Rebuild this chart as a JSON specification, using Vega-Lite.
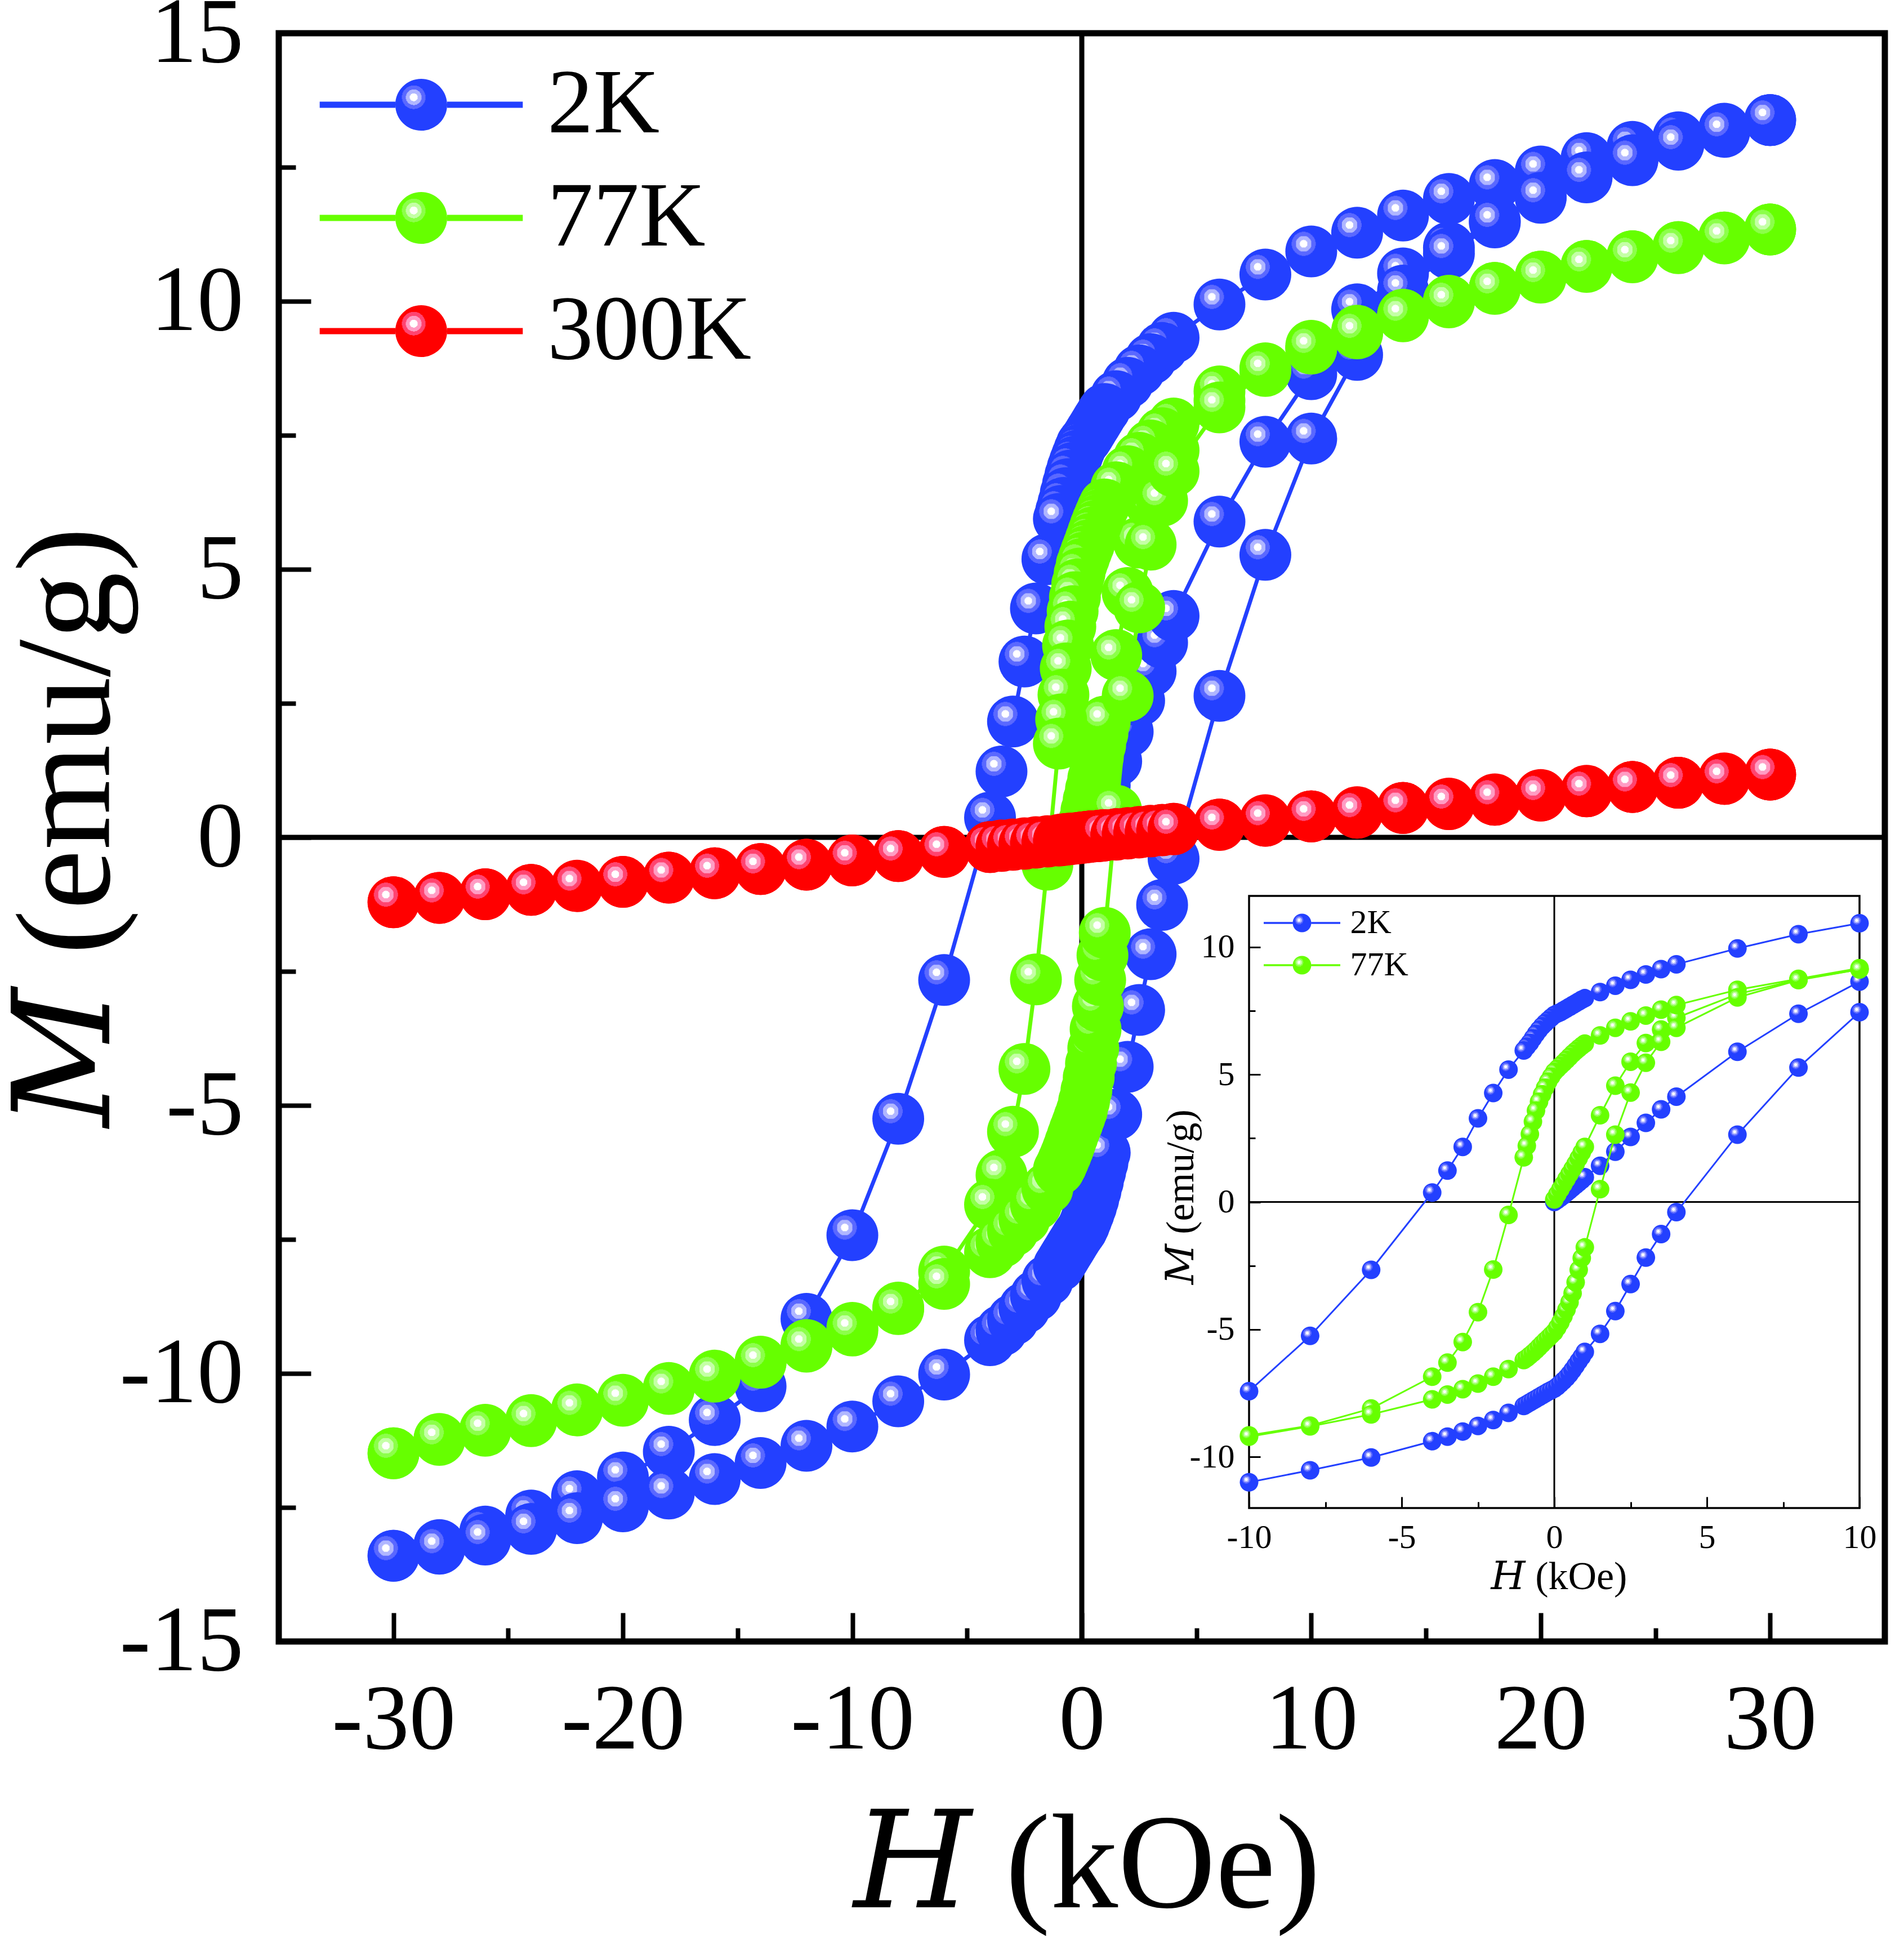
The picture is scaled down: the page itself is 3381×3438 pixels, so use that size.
{
"$schema":"https://vega.github.io/schema/vega-lite/v6.json",
"width":2852,"height":2856,
"autosize":{"type":"none"},
"padding":{"left":495,"top":59,"right":34,"bottom":523},
"background":"white",
"config":{
 "view":{"stroke":"black","strokeWidth":11},
 "axis":{"grid":false,"domain":false,"labelFont":"Liberation Serif","titleFont":"Liberation Serif, DejaVu Serif","labelColor":"black","titleColor":"black","tickColor":"black","titleFontWeight":"normal","labelFlush":false,"labelOverlap":false,"labelBound":false,"labelLimit":0,"titleLimit":0},
 "legend":{"labelFont":"Liberation Serif","labelColor":"black","padding":0,"offset":0,"labelLimit":0}
},
"datasets":{"mh":[
{"T":"2K","b":"v","H":0,"M":0},{"T":"2K","b":"v","H":0.1,"M":0.08},{"T":"2K","b":"v","H":0.2,"M":0.17},{"T":"2K","b":"v","H":0.3,"M":0.26},{"T":"2K","b":"v","H":0.4,"M":0.36},{"T":"2K","b":"v","H":0.5,"M":0.46},{"T":"2K","b":"v","H":0.6,"M":0.56},{"T":"2K","b":"v","H":0.7,"M":0.66},{"T":"2K","b":"v","H":0.8,"M":0.76},{"T":"2K","b":"v","H":0.9,"M":0.86},{"T":"2K","b":"v","H":1,"M":0.97},{"T":"2K","b":"v","H":1.5,"M":1.42},{"T":"2K","b":"v","H":2,"M":1.97},{"T":"2K","b":"v","H":2.5,"M":2.55},{"T":"2K","b":"v","H":3,"M":3.1},{"T":"2K","b":"v","H":3.5,"M":3.63},{"T":"2K","b":"v","H":4,"M":4.13},{"T":"2K","b":"v","H":6,"M":5.89},{"T":"2K","b":"v","H":8,"M":7.38},{"T":"2K","b":"v","H":10,"M":8.64},{"T":"2K","b":"v","H":12,"M":9.85},{"T":"2K","b":"v","H":14,"M":10.52},{"T":"2K","b":"v","H":16,"M":11.0},{"T":"2K","b":"v","H":18,"M":11.5},{"T":"2K","b":"v","H":20,"M":11.95},{"T":"2K","b":"v","H":22,"M":12.33},{"T":"2K","b":"v","H":24,"M":12.65},{"T":"2K","b":"v","H":26,"M":12.94},{"T":"2K","b":"v","H":28,"M":13.18},{"T":"2K","b":"v","H":30,"M":13.38},
{"T":"2K","b":"d","H":30,"M":13.38},{"T":"2K","b":"d","H":28,"M":13.22},{"T":"2K","b":"d","H":26,"M":13.06},{"T":"2K","b":"d","H":24,"M":12.88},{"T":"2K","b":"d","H":22,"M":12.67},{"T":"2K","b":"d","H":20,"M":12.42},{"T":"2K","b":"d","H":18,"M":12.17},{"T":"2K","b":"d","H":16,"M":11.91},{"T":"2K","b":"d","H":14,"M":11.6},{"T":"2K","b":"d","H":12,"M":11.28},{"T":"2K","b":"d","H":10,"M":10.93},{"T":"2K","b":"d","H":8,"M":10.5},{"T":"2K","b":"d","H":6,"M":9.94},{"T":"2K","b":"d","H":4,"M":9.32},{"T":"2K","b":"d","H":3.5,"M":9.13},{"T":"2K","b":"d","H":3,"M":8.92},{"T":"2K","b":"d","H":2.5,"M":8.71},{"T":"2K","b":"d","H":2,"M":8.48},{"T":"2K","b":"d","H":1.5,"M":8.23},{"T":"2K","b":"d","H":1,"M":7.99},{"T":"2K","b":"d","H":0.9,"M":7.93},{"T":"2K","b":"d","H":0.8,"M":7.86},{"T":"2K","b":"d","H":0.7,"M":7.79},{"T":"2K","b":"d","H":0.6,"M":7.72},{"T":"2K","b":"d","H":0.5,"M":7.65},{"T":"2K","b":"d","H":0.4,"M":7.58},{"T":"2K","b":"d","H":0.3,"M":7.51},{"T":"2K","b":"d","H":0.2,"M":7.44},{"T":"2K","b":"d","H":0.1,"M":7.39},{"T":"2K","b":"d","H":0,"M":7.33},{"T":"2K","b":"d","H":-0.1,"M":7.23},{"T":"2K","b":"d","H":-0.2,"M":7.12},{"T":"2K","b":"d","H":-0.3,"M":7.01},{"T":"2K","b":"d","H":-0.4,"M":6.89},{"T":"2K","b":"d","H":-0.5,"M":6.75},{"T":"2K","b":"d","H":-0.6,"M":6.59},{"T":"2K","b":"d","H":-0.7,"M":6.42},{"T":"2K","b":"d","H":-0.8,"M":6.24},{"T":"2K","b":"d","H":-0.9,"M":6.09},{"T":"2K","b":"d","H":-1,"M":5.94},{"T":"2K","b":"d","H":-1.5,"M":5.19},{"T":"2K","b":"d","H":-2,"M":4.27},{"T":"2K","b":"d","H":-2.5,"M":3.28},{"T":"2K","b":"d","H":-3,"M":2.16},{"T":"2K","b":"d","H":-3.5,"M":1.23},{"T":"2K","b":"d","H":-4,"M":0.37},{"T":"2K","b":"d","H":-6,"M":-2.66},{"T":"2K","b":"d","H":-8,"M":-5.25},{"T":"2K","b":"d","H":-10,"M":-7.42},{"T":"2K","b":"d","H":-12,"M":-8.98},{"T":"2K","b":"d","H":-14,"M":-10.24},{"T":"2K","b":"d","H":-16,"M":-10.87},{"T":"2K","b":"d","H":-18,"M":-11.46},{"T":"2K","b":"d","H":-20,"M":-11.94},{"T":"2K","b":"d","H":-22,"M":-12.29},{"T":"2K","b":"d","H":-24,"M":-12.65},{"T":"2K","b":"d","H":-26,"M":-12.95},{"T":"2K","b":"d","H":-28,"M":-13.2},{"T":"2K","b":"d","H":-30,"M":-13.4},
{"T":"2K","b":"a","H":-30,"M":-13.4},{"T":"2K","b":"a","H":-28,"M":-13.27},{"T":"2K","b":"a","H":-26,"M":-13.1},{"T":"2K","b":"a","H":-24,"M":-12.9},{"T":"2K","b":"a","H":-22,"M":-12.7},{"T":"2K","b":"a","H":-20,"M":-12.48},{"T":"2K","b":"a","H":-18,"M":-12.24},{"T":"2K","b":"a","H":-16,"M":-11.97},{"T":"2K","b":"a","H":-14,"M":-11.67},{"T":"2K","b":"a","H":-12,"M":-11.35},{"T":"2K","b":"a","H":-10,"M":-10.99},{"T":"2K","b":"a","H":-8,"M":-10.52},{"T":"2K","b":"a","H":-6,"M":-10.02},{"T":"2K","b":"a","H":-4,"M":-9.38},{"T":"2K","b":"a","H":-3.5,"M":-9.2},{"T":"2K","b":"a","H":-3,"M":-9.0},{"T":"2K","b":"a","H":-2.5,"M":-8.78},{"T":"2K","b":"a","H":-2,"M":-8.55},{"T":"2K","b":"a","H":-1.5,"M":-8.27},{"T":"2K","b":"a","H":-1,"M":-8.0},{"T":"2K","b":"a","H":-0.9,"M":-7.93},{"T":"2K","b":"a","H":-0.8,"M":-7.86},{"T":"2K","b":"a","H":-0.7,"M":-7.79},{"T":"2K","b":"a","H":-0.6,"M":-7.72},{"T":"2K","b":"a","H":-0.5,"M":-7.65},{"T":"2K","b":"a","H":-0.4,"M":-7.58},{"T":"2K","b":"a","H":-0.3,"M":-7.51},{"T":"2K","b":"a","H":-0.2,"M":-7.44},{"T":"2K","b":"a","H":-0.1,"M":-7.38},{"T":"2K","b":"a","H":0,"M":-7.32},{"T":"2K","b":"a","H":0.1,"M":-7.23},{"T":"2K","b":"a","H":0.2,"M":-7.12},{"T":"2K","b":"a","H":0.3,"M":-7.01},{"T":"2K","b":"a","H":0.4,"M":-6.89},{"T":"2K","b":"a","H":0.5,"M":-6.75},{"T":"2K","b":"a","H":0.6,"M":-6.59},{"T":"2K","b":"a","H":0.7,"M":-6.42},{"T":"2K","b":"a","H":0.8,"M":-6.24},{"T":"2K","b":"a","H":0.9,"M":-6.07},{"T":"2K","b":"a","H":1,"M":-5.88},{"T":"2K","b":"a","H":1.5,"M":-5.17},{"T":"2K","b":"a","H":2,"M":-4.28},{"T":"2K","b":"a","H":2.5,"M":-3.22},{"T":"2K","b":"a","H":3,"M":-2.18},{"T":"2K","b":"a","H":3.5,"M":-1.26},{"T":"2K","b":"a","H":4,"M":-0.4},{"T":"2K","b":"a","H":6,"M":2.64},{"T":"2K","b":"a","H":8,"M":5.27},{"T":"2K","b":"a","H":10,"M":7.44},{"T":"2K","b":"a","H":12,"M":9.0},{"T":"2K","b":"a","H":14,"M":10.2},{"T":"2K","b":"a","H":16,"M":10.89},{"T":"2K","b":"a","H":18,"M":11.47},{"T":"2K","b":"a","H":20,"M":11.93},{"T":"2K","b":"a","H":22,"M":12.31},{"T":"2K","b":"a","H":24,"M":12.63},{"T":"2K","b":"a","H":26,"M":12.92},{"T":"2K","b":"a","H":28,"M":13.16},{"T":"2K","b":"a","H":30,"M":13.38},
{"T":"77K","b":"v","H":0,"M":0.1},{"T":"77K","b":"v","H":0.1,"M":0.3},{"T":"77K","b":"v","H":0.2,"M":0.5},{"T":"77K","b":"v","H":0.3,"M":0.7},{"T":"77K","b":"v","H":0.4,"M":0.9},{"T":"77K","b":"v","H":0.5,"M":1.1},{"T":"77K","b":"v","H":0.6,"M":1.3},{"T":"77K","b":"v","H":0.7,"M":1.5},{"T":"77K","b":"v","H":0.8,"M":1.72},{"T":"77K","b":"v","H":0.9,"M":1.94},{"T":"77K","b":"v","H":1,"M":2.16},{"T":"77K","b":"v","H":1.5,"M":3.4},{"T":"77K","b":"v","H":2,"M":4.56},{"T":"77K","b":"v","H":2.5,"M":5.5},{"T":"77K","b":"v","H":3,"M":6.23},{"T":"77K","b":"v","H":3.5,"M":6.76},{"T":"77K","b":"v","H":4,"M":7.22},{"T":"77K","b":"v","H":6,"M":8.15},{"T":"77K","b":"v","H":8,"M":8.72},{"T":"77K","b":"v","H":10,"M":9.12},{"T":"77K","b":"v","H":12,"M":9.42},{"T":"77K","b":"v","H":14,"M":9.74},{"T":"77K","b":"v","H":16,"M":10.0},{"T":"77K","b":"v","H":18,"M":10.25},{"T":"77K","b":"v","H":20,"M":10.46},{"T":"77K","b":"v","H":22,"M":10.66},{"T":"77K","b":"v","H":24,"M":10.84},{"T":"77K","b":"v","H":26,"M":11.01},{"T":"77K","b":"v","H":28,"M":11.19},{"T":"77K","b":"v","H":30,"M":11.34},
{"T":"77K","b":"d","H":30,"M":11.34},{"T":"77K","b":"d","H":28,"M":11.19},{"T":"77K","b":"d","H":26,"M":11.01},{"T":"77K","b":"d","H":24,"M":10.84},{"T":"77K","b":"d","H":22,"M":10.66},{"T":"77K","b":"d","H":20,"M":10.46},{"T":"77K","b":"d","H":18,"M":10.25},{"T":"77K","b":"d","H":16,"M":10.01},{"T":"77K","b":"d","H":14,"M":9.75},{"T":"77K","b":"d","H":12,"M":9.45},{"T":"77K","b":"d","H":10,"M":9.17},{"T":"77K","b":"d","H":8,"M":8.75},{"T":"77K","b":"d","H":6,"M":8.32},{"T":"77K","b":"d","H":4,"M":7.72},{"T":"77K","b":"d","H":3.5,"M":7.54},{"T":"77K","b":"d","H":3,"M":7.31},{"T":"77K","b":"d","H":2.5,"M":7.08},{"T":"77K","b":"d","H":2,"M":6.83},{"T":"77K","b":"d","H":1.5,"M":6.53},{"T":"77K","b":"d","H":1,"M":6.21},{"T":"77K","b":"d","H":0.9,"M":6.12},{"T":"77K","b":"d","H":0.8,"M":6.02},{"T":"77K","b":"d","H":0.7,"M":5.92},{"T":"77K","b":"d","H":0.6,"M":5.81},{"T":"77K","b":"d","H":0.5,"M":5.69},{"T":"77K","b":"d","H":0.4,"M":5.57},{"T":"77K","b":"d","H":0.3,"M":5.45},{"T":"77K","b":"d","H":0.2,"M":5.34},{"T":"77K","b":"d","H":0.1,"M":5.22},{"T":"77K","b":"d","H":0,"M":5.1},{"T":"77K","b":"d","H":-0.1,"M":4.92},{"T":"77K","b":"d","H":-0.2,"M":4.72},{"T":"77K","b":"d","H":-0.3,"M":4.48},{"T":"77K","b":"d","H":-0.4,"M":4.22},{"T":"77K","b":"d","H":-0.5,"M":3.93},{"T":"77K","b":"d","H":-0.6,"M":3.58},{"T":"77K","b":"d","H":-0.7,"M":3.15},{"T":"77K","b":"d","H":-0.8,"M":2.66},{"T":"77K","b":"d","H":-0.9,"M":2.2},{"T":"77K","b":"d","H":-1,"M":1.75},{"T":"77K","b":"d","H":-1.5,"M":-0.51},{"T":"77K","b":"d","H":-2,"M":-2.65},{"T":"77K","b":"d","H":-2.5,"M":-4.32},{"T":"77K","b":"d","H":-3,"M":-5.49},{"T":"77K","b":"d","H":-3.5,"M":-6.3},{"T":"77K","b":"d","H":-4,"M":-6.85},{"T":"77K","b":"d","H":-6,"M":-8.1},{"T":"77K","b":"d","H":-8,"M":-8.77},{"T":"77K","b":"d","H":-10,"M":-9.15},{"T":"77K","b":"d","H":-12,"M":-9.47},{"T":"77K","b":"d","H":-14,"M":-9.78},{"T":"77K","b":"d","H":-16,"M":-10.04},{"T":"77K","b":"d","H":-18,"M":-10.27},{"T":"77K","b":"d","H":-20,"M":-10.49},{"T":"77K","b":"d","H":-22,"M":-10.67},{"T":"77K","b":"d","H":-24,"M":-10.87},{"T":"77K","b":"d","H":-26,"M":-11.05},{"T":"77K","b":"d","H":-28,"M":-11.22},{"T":"77K","b":"d","H":-30,"M":-11.49},
{"T":"77K","b":"a","H":-30,"M":-11.49},{"T":"77K","b":"a","H":-28,"M":-11.24},{"T":"77K","b":"a","H":-26,"M":-11.07},{"T":"77K","b":"a","H":-24,"M":-10.89},{"T":"77K","b":"a","H":-22,"M":-10.69},{"T":"77K","b":"a","H":-20,"M":-10.51},{"T":"77K","b":"a","H":-18,"M":-10.29},{"T":"77K","b":"a","H":-16,"M":-10.06},{"T":"77K","b":"a","H":-14,"M":-9.8},{"T":"77K","b":"a","H":-12,"M":-9.5},{"T":"77K","b":"a","H":-10,"M":-9.2},{"T":"77K","b":"a","H":-8,"M":-8.8},{"T":"77K","b":"a","H":-6,"M":-8.33},{"T":"77K","b":"a","H":-4,"M":-7.74},{"T":"77K","b":"a","H":-3.5,"M":-7.55},{"T":"77K","b":"a","H":-3,"M":-7.34},{"T":"77K","b":"a","H":-2.5,"M":-7.12},{"T":"77K","b":"a","H":-2,"M":-6.85},{"T":"77K","b":"a","H":-1.5,"M":-6.55},{"T":"77K","b":"a","H":-1,"M":-6.2},{"T":"77K","b":"a","H":-0.9,"M":-6.12},{"T":"77K","b":"a","H":-0.8,"M":-6.02},{"T":"77K","b":"a","H":-0.7,"M":-5.92},{"T":"77K","b":"a","H":-0.6,"M":-5.81},{"T":"77K","b":"a","H":-0.5,"M":-5.69},{"T":"77K","b":"a","H":-0.4,"M":-5.57},{"T":"77K","b":"a","H":-0.3,"M":-5.45},{"T":"77K","b":"a","H":-0.2,"M":-5.34},{"T":"77K","b":"a","H":-0.1,"M":-5.22},{"T":"77K","b":"a","H":0,"M":-5.1},{"T":"77K","b":"a","H":0.1,"M":-4.92},{"T":"77K","b":"a","H":0.2,"M":-4.72},{"T":"77K","b":"a","H":0.3,"M":-4.48},{"T":"77K","b":"a","H":0.4,"M":-4.22},{"T":"77K","b":"a","H":0.5,"M":-3.93},{"T":"77K","b":"a","H":0.6,"M":-3.58},{"T":"77K","b":"a","H":0.7,"M":-3.15},{"T":"77K","b":"a","H":0.8,"M":-2.66},{"T":"77K","b":"a","H":0.9,"M":-2.2},{"T":"77K","b":"a","H":1,"M":-1.78},{"T":"77K","b":"a","H":1.5,"M":0.5},{"T":"77K","b":"a","H":2,"M":2.64},{"T":"77K","b":"a","H":2.5,"M":4.29},{"T":"77K","b":"a","H":3,"M":5.46},{"T":"77K","b":"a","H":3.5,"M":6.28},{"T":"77K","b":"a","H":4,"M":6.83},{"T":"77K","b":"a","H":6,"M":8.02},{"T":"77K","b":"a","H":8,"M":8.7},{"T":"77K","b":"a","H":10,"M":9.12},{"T":"77K","b":"a","H":12,"M":9.4},{"T":"77K","b":"a","H":14,"M":9.72},{"T":"77K","b":"a","H":16,"M":9.98},{"T":"77K","b":"a","H":18,"M":10.23},{"T":"77K","b":"a","H":20,"M":10.44},{"T":"77K","b":"a","H":22,"M":10.64},{"T":"77K","b":"a","H":24,"M":10.82},{"T":"77K","b":"a","H":26,"M":10.99},{"T":"77K","b":"a","H":28,"M":11.17},{"T":"77K","b":"a","H":30,"M":11.34},
{"T":"300K","b":"v","H":0,"M":0},{"T":"300K","b":"v","H":0.1,"M":0},{"T":"300K","b":"v","H":0.2,"M":0.01},{"T":"300K","b":"v","H":0.3,"M":0.01},{"T":"300K","b":"v","H":0.4,"M":0.02},{"T":"300K","b":"v","H":0.5,"M":0.02},{"T":"300K","b":"v","H":0.6,"M":0.02},{"T":"300K","b":"v","H":0.7,"M":0.03},{"T":"300K","b":"v","H":0.8,"M":0.03},{"T":"300K","b":"v","H":0.9,"M":0.04},{"T":"300K","b":"v","H":1,"M":0.04},{"T":"300K","b":"v","H":1.5,"M":0.06},{"T":"300K","b":"v","H":2,"M":0.08},{"T":"300K","b":"v","H":2.5,"M":0.1},{"T":"300K","b":"v","H":3,"M":0.12},{"T":"300K","b":"v","H":3.5,"M":0.14},{"T":"300K","b":"v","H":4,"M":0.16},{"T":"300K","b":"v","H":6,"M":0.24},{"T":"300K","b":"v","H":8,"M":0.31},{"T":"300K","b":"v","H":10,"M":0.39},{"T":"300K","b":"v","H":12,"M":0.46},{"T":"300K","b":"v","H":14,"M":0.55},{"T":"300K","b":"v","H":16,"M":0.62},{"T":"300K","b":"v","H":18,"M":0.7},{"T":"300K","b":"v","H":20,"M":0.78},{"T":"300K","b":"v","H":22,"M":0.86},{"T":"300K","b":"v","H":24,"M":0.94},{"T":"300K","b":"v","H":26,"M":1.02},{"T":"300K","b":"v","H":28,"M":1.09},{"T":"300K","b":"v","H":30,"M":1.17},
{"T":"300K","b":"d","H":30,"M":1.17},{"T":"300K","b":"d","H":28,"M":1.1},{"T":"300K","b":"d","H":26,"M":1.02},{"T":"300K","b":"d","H":24,"M":0.94},{"T":"300K","b":"d","H":22,"M":0.87},{"T":"300K","b":"d","H":20,"M":0.79},{"T":"300K","b":"d","H":18,"M":0.71},{"T":"300K","b":"d","H":16,"M":0.63},{"T":"300K","b":"d","H":14,"M":0.55},{"T":"300K","b":"d","H":12,"M":0.47},{"T":"300K","b":"d","H":10,"M":0.39},{"T":"300K","b":"d","H":8,"M":0.32},{"T":"300K","b":"d","H":6,"M":0.24},{"T":"300K","b":"d","H":4,"M":0.16},{"T":"300K","b":"d","H":3.5,"M":0.14},{"T":"300K","b":"d","H":3,"M":0.12},{"T":"300K","b":"d","H":2.5,"M":0.1},{"T":"300K","b":"d","H":2,"M":0.08},{"T":"300K","b":"d","H":1.5,"M":0.06},{"T":"300K","b":"d","H":1,"M":0.04},{"T":"300K","b":"d","H":0.9,"M":0.04},{"T":"300K","b":"d","H":0.8,"M":0.03},{"T":"300K","b":"d","H":0.7,"M":0.03},{"T":"300K","b":"d","H":0.6,"M":0.02},{"T":"300K","b":"d","H":0.5,"M":0.02},{"T":"300K","b":"d","H":0.4,"M":0.02},{"T":"300K","b":"d","H":0.3,"M":0.01},{"T":"300K","b":"d","H":0.2,"M":0.01},{"T":"300K","b":"d","H":0.1,"M":0},{"T":"300K","b":"d","H":0,"M":0},{"T":"300K","b":"d","H":-0.1,"M":-0.01},{"T":"300K","b":"d","H":-0.2,"M":-0.01},{"T":"300K","b":"d","H":-0.3,"M":-0.02},{"T":"300K","b":"d","H":-0.4,"M":-0.02},{"T":"300K","b":"d","H":-0.5,"M":-0.02},{"T":"300K","b":"d","H":-0.6,"M":-0.03},{"T":"300K","b":"d","H":-0.7,"M":-0.03},{"T":"300K","b":"d","H":-0.8,"M":-0.04},{"T":"300K","b":"d","H":-0.9,"M":-0.04},{"T":"300K","b":"d","H":-1,"M":-0.05},{"T":"300K","b":"d","H":-1.5,"M":-0.07},{"T":"300K","b":"d","H":-2,"M":-0.09},{"T":"300K","b":"d","H":-2.5,"M":-0.11},{"T":"300K","b":"d","H":-3,"M":-0.13},{"T":"300K","b":"d","H":-3.5,"M":-0.15},{"T":"300K","b":"d","H":-4,"M":-0.18},{"T":"300K","b":"d","H":-6,"M":-0.27},{"T":"300K","b":"d","H":-8,"M":-0.35},{"T":"300K","b":"d","H":-10,"M":-0.43},{"T":"300K","b":"d","H":-12,"M":-0.51},{"T":"300K","b":"d","H":-14,"M":-0.59},{"T":"300K","b":"d","H":-16,"M":-0.67},{"T":"300K","b":"d","H":-18,"M":-0.75},{"T":"300K","b":"d","H":-20,"M":-0.83},{"T":"300K","b":"d","H":-22,"M":-0.9},{"T":"300K","b":"d","H":-24,"M":-0.98},{"T":"300K","b":"d","H":-26,"M":-1.06},{"T":"300K","b":"d","H":-28,"M":-1.13},{"T":"300K","b":"d","H":-30,"M":-1.21},
{"T":"300K","b":"a","H":-30,"M":-1.21},{"T":"300K","b":"a","H":-28,"M":-1.13},{"T":"300K","b":"a","H":-26,"M":-1.06},{"T":"300K","b":"a","H":-24,"M":-0.98},{"T":"300K","b":"a","H":-22,"M":-0.91},{"T":"300K","b":"a","H":-20,"M":-0.83},{"T":"300K","b":"a","H":-18,"M":-0.75},{"T":"300K","b":"a","H":-16,"M":-0.67},{"T":"300K","b":"a","H":-14,"M":-0.59},{"T":"300K","b":"a","H":-12,"M":-0.51},{"T":"300K","b":"a","H":-10,"M":-0.43},{"T":"300K","b":"a","H":-8,"M":-0.35},{"T":"300K","b":"a","H":-6,"M":-0.27},{"T":"300K","b":"a","H":-4,"M":-0.18},{"T":"300K","b":"a","H":-3.5,"M":-0.16},{"T":"300K","b":"a","H":-3,"M":-0.14},{"T":"300K","b":"a","H":-2.5,"M":-0.12},{"T":"300K","b":"a","H":-2,"M":-0.1},{"T":"300K","b":"a","H":-1.5,"M":-0.08},{"T":"300K","b":"a","H":-1,"M":-0.06},{"T":"300K","b":"a","H":-0.9,"M":-0.05},{"T":"300K","b":"a","H":-0.8,"M":-0.05},{"T":"300K","b":"a","H":-0.7,"M":-0.04},{"T":"300K","b":"a","H":-0.6,"M":-0.04},{"T":"300K","b":"a","H":-0.5,"M":-0.03},{"T":"300K","b":"a","H":-0.4,"M":-0.03},{"T":"300K","b":"a","H":-0.3,"M":-0.02},{"T":"300K","b":"a","H":-0.2,"M":-0.02},{"T":"300K","b":"a","H":-0.1,"M":-0.01},{"T":"300K","b":"a","H":0,"M":-0.01},{"T":"300K","b":"a","H":0.1,"M":0},{"T":"300K","b":"a","H":0.2,"M":0},{"T":"300K","b":"a","H":0.3,"M":0.01},{"T":"300K","b":"a","H":0.4,"M":0.01},{"T":"300K","b":"a","H":0.5,"M":0.02},{"T":"300K","b":"a","H":0.6,"M":0.02},{"T":"300K","b":"a","H":0.7,"M":0.02},{"T":"300K","b":"a","H":0.8,"M":0.03},{"T":"300K","b":"a","H":0.9,"M":0.03},{"T":"300K","b":"a","H":1,"M":0.04},{"T":"300K","b":"a","H":1.5,"M":0.05},{"T":"300K","b":"a","H":2,"M":0.07},{"T":"300K","b":"a","H":2.5,"M":0.09},{"T":"300K","b":"a","H":3,"M":0.11},{"T":"300K","b":"a","H":3.5,"M":0.13},{"T":"300K","b":"a","H":4,"M":0.15},{"T":"300K","b":"a","H":6,"M":0.23},{"T":"300K","b":"a","H":8,"M":0.31},{"T":"300K","b":"a","H":10,"M":0.39},{"T":"300K","b":"a","H":12,"M":0.46},{"T":"300K","b":"a","H":14,"M":0.55},{"T":"300K","b":"a","H":16,"M":0.62},{"T":"300K","b":"a","H":18,"M":0.7},{"T":"300K","b":"a","H":20,"M":0.78},{"T":"300K","b":"a","H":22,"M":0.86},{"T":"300K","b":"a","H":24,"M":0.94},{"T":"300K","b":"a","H":26,"M":1.02},{"T":"300K","b":"a","H":28,"M":1.09},{"T":"300K","b":"a","H":30,"M":1.17}
]},
"layer":[
{
 "layer":[
  {"data":{"values":[{}]},"mark":{"type":"rule","color":"black","strokeWidth":9},
   "encoding":{"x":{"datum":0,"type":"quantitative","scale":{"domain":[-35,35],"nice":false,"zero":false},
    "axis":{"orient":"bottom","values":[-30,-20,-10,0,10,20,30],"tickSize":-51,"tickWidth":8,"labelFontSize":165,"labelPadding":110,"labelExpr":"''+datum.value","title":"\ud835\udc3b (kOe)","titleFontSize":240,"titleX":1435,"titleY":471,"titleAlign":"center","titleBaseline":"alphabetic"}}}},
  {"data":{"values":[{}]},"mark":{"type":"rule","color":"black","strokeWidth":9},
   "encoding":{"y":{"datum":0,"type":"quantitative","scale":{"domain":[-15,15],"nice":false,"zero":false},
    "axis":{"orient":"left","values":[-15,-10,-5,0,5,10,15],"tickSize":-57,"tickWidth":8,"labelFontSize":165,"labelPadding":120,"labelExpr":"''+datum.value","title":"\ud835\udc40 (emu/g)","titleFontSize":240,"titleX":-374,"titleY":1409,"titleAngle":270,"titleAlign":"center","titleBaseline":"middle"}}}},
  {"data":{"values":[{}]},"mark":{"type":"rule","opacity":0},
   "encoding":{"x":{"datum":0,"type":"quantitative","scale":{"domain":[-35,35],"nice":false,"zero":false},
    "axis":{"orient":"bottom","values":[-25,-15,-5,5,15,25],"tickSize":-24,"tickWidth":8,"labels":false,"title":null}}}},
  {"data":{"values":[{}]},"mark":{"type":"rule","opacity":0},
   "encoding":{"y":{"datum":0,"type":"quantitative","scale":{"domain":[-15,15],"nice":false,"zero":false},
    "axis":{"orient":"left","values":[-12.5,-7.5,-2.5,2.5,7.5,12.5],"tickSize":-30,"tickWidth":8,"labels":false,"title":null}}}},
  {"data":{"name":"mh"},"transform":[{"filter":"datum.T == '2K'"}],
   "mark":{"type":"line","strokeWidth":7,"strokeJoin":"round"},
   "encoding":{"x":{"field":"H","type":"quantitative","scale":{"domain":[-35,35],"nice":false,"zero":false},"axis":null},
    "y":{"field":"M","type":"quantitative","scale":{"domain":[-15,15],"nice":false,"zero":false},"axis":null},
    "color":{"field":"T","type":"nominal","scale":{"domain":["2K","77K","300K"],"range":["#2340ff","#66ff00","#ff0000"]},
     "legend":{"title":null,"orient":"none","legendX":171.5,"legendY":45.5,
      "symbolType":"M-3.92,-0.12H-1V0.12H-3.92Z M1,-0.12H3.92V0.12H1Z M-1,0A1,1,0,1,0,1,0A1,1,0,1,0,-1,0Z",
      "symbolSize":8464,"symbolStrokeWidth":0,"symbolOffset":0,"labelFontSize":163,"labelOffset":142.5,"rowPadding":37,
      "encode":{"symbols":{"update":{"opacity":{"value":1},"strokeWidth":{"value":0},"fill":{"signal":"datum.value === '2K' ? {gradient:'radial',x1:0.463,y1:0.463,r1:0,x2:0.463,y2:0.463,r2:0.178,stops:[{offset:0,color:'#ffffff'},{offset:0.109,color:'#ffffff'},{offset:0.109,color:'#b0b6ff'},{offset:0.217,color:'#b0b6ff'},{offset:0.217,color:'#5a68ff'},{offset:0.326,color:'#5a68ff'},{offset:0.326,color:'#2340ff'},{offset:1,color:'#2340ff'}]} : datum.value === '77K' ? {gradient:'radial',x1:0.463,y1:0.463,r1:0,x2:0.463,y2:0.463,r2:0.178,stops:[{offset:0,color:'#ffffff'},{offset:0.109,color:'#ffffff'},{offset:0.109,color:'#c4ffa6'},{offset:0.217,color:'#c4ffa6'},{offset:0.217,color:'#8cff4a'},{offset:0.326,color:'#8cff4a'},{offset:0.326,color:'#66ff00'},{offset:1,color:'#66ff00'}]} : {gradient:'radial',x1:0.463,y1:0.463,r1:0,x2:0.463,y2:0.463,r2:0.178,stops:[{offset:0,color:'#ffffff'},{offset:0.109,color:'#ffffff'},{offset:0.109,color:'#ff9cc4'},{offset:0.217,color:'#ff9cc4'},{offset:0.217,color:'#ff4470'},{offset:0.326,color:'#ff4470'},{offset:0.326,color:'#ff0000'},{offset:1,color:'#ff0000'}]}"}}}}}},
    "detail":{"field":"b","type":"nominal"},"order":{"value":null}}},
  {"data":{"name":"mh"},"transform":[{"filter":"datum.T == '2K'"}],
   "mark":{"type":"point","shape":"circle","filled":true,"size":8464,"opacity":1,"strokeWidth":0,
    "fill":{"gradient":"radial","x1":0.353,"y1":0.353,"r1":0,"x2":0.353,"y2":0.353,"r2":0.7,"stops":[{"offset":0,"color":"#ffffff"},{"offset":0.109,"color":"#ffffff"},{"offset":0.109,"color":"#b0b6ff"},{"offset":0.217,"color":"#b0b6ff"},{"offset":0.217,"color":"#5a68ff"},{"offset":0.33,"color":"#5a68ff"},{"offset":0.33,"color":"#2340ff"},{"offset":1,"color":"#2340ff"}]}},
   "encoding":{"x":{"field":"H","type":"quantitative","scale":{"domain":[-35,35],"nice":false,"zero":false},"axis":null},
    "y":{"field":"M","type":"quantitative","scale":{"domain":[-15,15],"nice":false,"zero":false},"axis":null}}},
  {"data":{"name":"mh"},"transform":[{"filter":"datum.T == '77K'"}],
   "mark":{"type":"line","strokeWidth":7,"strokeJoin":"round"},
   "encoding":{"x":{"field":"H","type":"quantitative","scale":{"domain":[-35,35],"nice":false,"zero":false},"axis":null},
    "y":{"field":"M","type":"quantitative","scale":{"domain":[-15,15],"nice":false,"zero":false},"axis":null},
    "color":{"field":"T","type":"nominal","scale":{"domain":["2K","77K","300K"],"range":["#2340ff","#66ff00","#ff0000"]}},
    "detail":{"field":"b","type":"nominal"},"order":{"value":null}}},
  {"data":{"name":"mh"},"transform":[{"filter":"datum.T == '77K'"}],
   "mark":{"type":"point","shape":"circle","filled":true,"size":8464,"opacity":1,"strokeWidth":0,
    "fill":{"gradient":"radial","x1":0.353,"y1":0.353,"r1":0,"x2":0.353,"y2":0.353,"r2":0.7,"stops":[{"offset":0,"color":"#ffffff"},{"offset":0.109,"color":"#ffffff"},{"offset":0.109,"color":"#c4ffa6"},{"offset":0.217,"color":"#c4ffa6"},{"offset":0.217,"color":"#8cff4a"},{"offset":0.33,"color":"#8cff4a"},{"offset":0.33,"color":"#66ff00"},{"offset":1,"color":"#66ff00"}]}},
   "encoding":{"x":{"field":"H","type":"quantitative","scale":{"domain":[-35,35],"nice":false,"zero":false},"axis":null},
    "y":{"field":"M","type":"quantitative","scale":{"domain":[-15,15],"nice":false,"zero":false},"axis":null}}},
  {"data":{"name":"mh"},"transform":[{"filter":"datum.T == '300K'"}],
   "mark":{"type":"line","strokeWidth":7,"strokeJoin":"round"},
   "encoding":{"x":{"field":"H","type":"quantitative","scale":{"domain":[-35,35],"nice":false,"zero":false},"axis":null},
    "y":{"field":"M","type":"quantitative","scale":{"domain":[-15,15],"nice":false,"zero":false},"axis":null},
    "color":{"field":"T","type":"nominal","scale":{"domain":["2K","77K","300K"],"range":["#2340ff","#66ff00","#ff0000"]}},
    "detail":{"field":"b","type":"nominal"},"order":{"value":null}}},
  {"data":{"name":"mh"},"transform":[{"filter":"datum.T == '300K'"}],
   "mark":{"type":"point","shape":"circle","filled":true,"size":8464,"opacity":1,"strokeWidth":0,
    "fill":{"gradient":"radial","x1":0.353,"y1":0.353,"r1":0,"x2":0.353,"y2":0.353,"r2":0.7,"stops":[{"offset":0,"color":"#ffffff"},{"offset":0.109,"color":"#ffffff"},{"offset":0.109,"color":"#ff9cc4"},{"offset":0.217,"color":"#ff9cc4"},{"offset":0.217,"color":"#ff4470"},{"offset":0.33,"color":"#ff4470"},{"offset":0.33,"color":"#ff0000"},{"offset":1,"color":"#ff0000"}]}},
   "encoding":{"x":{"field":"H","type":"quantitative","scale":{"domain":[-35,35],"nice":false,"zero":false},"axis":null},
    "y":{"field":"M","type":"quantitative","scale":{"domain":[-15,15],"nice":false,"zero":false},"axis":null}}}
 ],
 "resolve":{"axis":{"x":"independent","y":"independent"}}
},
{
 "layer":[
  {"data":{"values":[{}]},"mark":{"type":"rect","fill":null,"stroke":"black","strokeWidth":3.5},
   "encoding":{"x":{"datum":-10,"type":"quantitative","scale":{"domain":[-10,10],"range":[1723,2807],"nice":false,"zero":false},
     "axis":{"orient":"bottom","offset":-237,"values":[-10,-5,0,5,10],"tickSize":-20,"tickWidth":3,"labelFontSize":60,"labelPadding":43,"labelExpr":"''+datum.value","title":"\ud835\udc3b (kOe)","titleFontSize":70,"titleX":2273,"titleY":143,"titleAlign":"center","titleBaseline":"alphabetic"}},
    "x2":{"datum":10},
    "y":{"datum":-12,"type":"quantitative","scale":{"domain":[-12,12],"range":[2619,1532],"nice":false,"zero":false},
     "axis":{"orient":"left","offset":-1723,"values":[-10,-5,0,5,10],"tickSize":-20,"tickWidth":3,"labelFontSize":60,"labelPadding":46,"labelExpr":"''+datum.value","title":"\ud835\udc40 (emu/g)","titleFontSize":70,"titleX":-121,"titleY":2066,"titleAngle":270,"titleAlign":"center","titleBaseline":"middle"}},
    "y2":{"datum":12}}},
  {"data":{"values":[{}]},"mark":{"type":"rule","color":"black","strokeWidth":3},
   "encoding":{"x":{"datum":0,"type":"quantitative","scale":{"domain":[-10,10],"range":[1723,2807],"nice":false,"zero":false},"axis":null},
    "y":{"datum":-12,"type":"quantitative","scale":{"domain":[-12,12],"range":[2619,1532],"nice":false,"zero":false},"axis":null},"y2":{"datum":12}}},
  {"data":{"values":[{}]},"mark":{"type":"rule","color":"black","strokeWidth":3},
   "encoding":{"x":{"datum":-10,"type":"quantitative","scale":{"domain":[-10,10],"range":[1723,2807],"nice":false,"zero":false},"axis":null},"x2":{"datum":10},
    "y":{"datum":0,"type":"quantitative","scale":{"domain":[-12,12],"range":[2619,1532],"nice":false,"zero":false},"axis":null}}},
  {"data":{"values":[{}]},"mark":{"type":"rule","opacity":0},
   "encoding":{"x":{"datum":0,"type":"quantitative","scale":{"domain":[-10,10],"range":[1723,2807],"nice":false,"zero":false},
     "axis":{"orient":"bottom","offset":-237,"values":[-7.5,-2.5,2.5,7.5],"tickSize":-11,"tickWidth":3,"labels":false,"title":null}}}},
  {"data":{"values":[{}]},"mark":{"type":"rule","opacity":0},
   "encoding":{"y":{"datum":0,"type":"quantitative","scale":{"domain":[-12,12],"range":[2619,1532],"nice":false,"zero":false},
     "axis":{"orient":"left","offset":-1723,"values":[-7.5,-2.5,2.5,7.5],"tickSize":-11,"tickWidth":3,"labels":false,"title":null}}}},
  {"data":{"name":"mh"},"transform":[{"filter":"datum.T == '2K' && datum.H >= -10 && datum.H <= 10"}],
   "mark":{"type":"line","strokeWidth":3,"strokeJoin":"round"},
   "encoding":{"x":{"field":"H","type":"quantitative","scale":{"domain":[-10,10],"range":[1723,2807],"nice":false,"zero":false},"axis":null},
    "y":{"field":"M","type":"quantitative","scale":{"domain":[-12,12],"range":[2619,1532],"nice":false,"zero":false},"axis":null},
    "color":{"field":"T","type":"nominal","scale":{"domain":["2K","77K"],"range":["#2340ff","#66ff00"]},
     "legend":{"title":null,"orient":"none","legendX":1787,"legendY":1550,
      "symbolType":"M-4.12,-0.1H-1V0.1H-4.12Z M1,-0.1H4.12V0.1H1Z M-1,0A1,1,0,1,0,1,0A1,1,0,1,0,-1,0Z",
      "symbolSize":1089,"symbolStrokeWidth":0,"symbolOffset":0,"labelFontSize":60,"labelOffset":55.5,"rowPadding":15,
      "encode":{"symbols":{"update":{"opacity":{"value":1},"strokeWidth":{"value":0},"fill":{"signal":"datum.value === '2K' ? {gradient:'radial',x1:0.463,y1:0.463,r1:0,x2:0.463,y2:0.463,r2:0.17,stops:[{offset:0,color:'#ffffff'},{offset:0.109,color:'#ffffff'},{offset:0.109,color:'#b0b6ff'},{offset:0.217,color:'#b0b6ff'},{offset:0.217,color:'#5a68ff'},{offset:0.326,color:'#5a68ff'},{offset:0.326,color:'#2340ff'},{offset:1,color:'#2340ff'}]} : {gradient:'radial',x1:0.463,y1:0.463,r1:0,x2:0.463,y2:0.463,r2:0.17,stops:[{offset:0,color:'#ffffff'},{offset:0.109,color:'#ffffff'},{offset:0.109,color:'#c4ffa6'},{offset:0.217,color:'#c4ffa6'},{offset:0.217,color:'#8cff4a'},{offset:0.326,color:'#8cff4a'},{offset:0.326,color:'#66ff00'},{offset:1,color:'#66ff00'}]}"}}}}}},
    "detail":{"field":"b","type":"nominal"},"order":{"value":null}}},
  {"data":{"name":"mh"},"transform":[{"filter":"datum.T == '2K' && datum.H >= -10 && datum.H <= 10"}],
   "mark":{"type":"point","shape":"circle","filled":true,"size":1089,"opacity":1,"strokeWidth":0,
    "fill":{"gradient":"radial","x1":0.35,"y1":0.35,"r1":0,"x2":0.35,"y2":0.35,"r2":0.7,"stops":[{"offset":0,"color":"#ffffff"},{"offset":0.109,"color":"#ffffff"},{"offset":0.109,"color":"#b0b6ff"},{"offset":0.217,"color":"#b0b6ff"},{"offset":0.217,"color":"#5a68ff"},{"offset":0.326,"color":"#5a68ff"},{"offset":0.326,"color":"#2340ff"},{"offset":1,"color":"#2340ff"}]}},
   "encoding":{"x":{"field":"H","type":"quantitative","scale":{"domain":[-10,10],"range":[1723,2807],"nice":false,"zero":false},"axis":null},
    "y":{"field":"M","type":"quantitative","scale":{"domain":[-12,12],"range":[2619,1532],"nice":false,"zero":false},"axis":null}}},
  {"data":{"name":"mh"},"transform":[{"filter":"datum.T == '77K' && datum.H >= -10 && datum.H <= 10"}],
   "mark":{"type":"line","strokeWidth":3,"strokeJoin":"round"},
   "encoding":{"x":{"field":"H","type":"quantitative","scale":{"domain":[-10,10],"range":[1723,2807],"nice":false,"zero":false},"axis":null},
    "y":{"field":"M","type":"quantitative","scale":{"domain":[-12,12],"range":[2619,1532],"nice":false,"zero":false},"axis":null},
    "color":{"field":"T","type":"nominal","scale":{"domain":["2K","77K"],"range":["#2340ff","#66ff00"]}},
    "detail":{"field":"b","type":"nominal"},"order":{"value":null}}},
  {"data":{"name":"mh"},"transform":[{"filter":"datum.T == '77K' && datum.H >= -10 && datum.H <= 10"}],
   "mark":{"type":"point","shape":"circle","filled":true,"size":1089,"opacity":1,"strokeWidth":0,
    "fill":{"gradient":"radial","x1":0.35,"y1":0.35,"r1":0,"x2":0.35,"y2":0.35,"r2":0.7,"stops":[{"offset":0,"color":"#ffffff"},{"offset":0.109,"color":"#ffffff"},{"offset":0.109,"color":"#c4ffa6"},{"offset":0.217,"color":"#c4ffa6"},{"offset":0.217,"color":"#8cff4a"},{"offset":0.326,"color":"#8cff4a"},{"offset":0.326,"color":"#66ff00"},{"offset":1,"color":"#66ff00"}]}},
   "encoding":{"x":{"field":"H","type":"quantitative","scale":{"domain":[-10,10],"range":[1723,2807],"nice":false,"zero":false},"axis":null},
    "y":{"field":"M","type":"quantitative","scale":{"domain":[-12,12],"range":[2619,1532],"nice":false,"zero":false},"axis":null}}}
 ],
 "resolve":{"axis":{"x":"independent","y":"independent"}}
}
],
"resolve":{"scale":{"x":"independent","y":"independent","color":"independent"}}
}
